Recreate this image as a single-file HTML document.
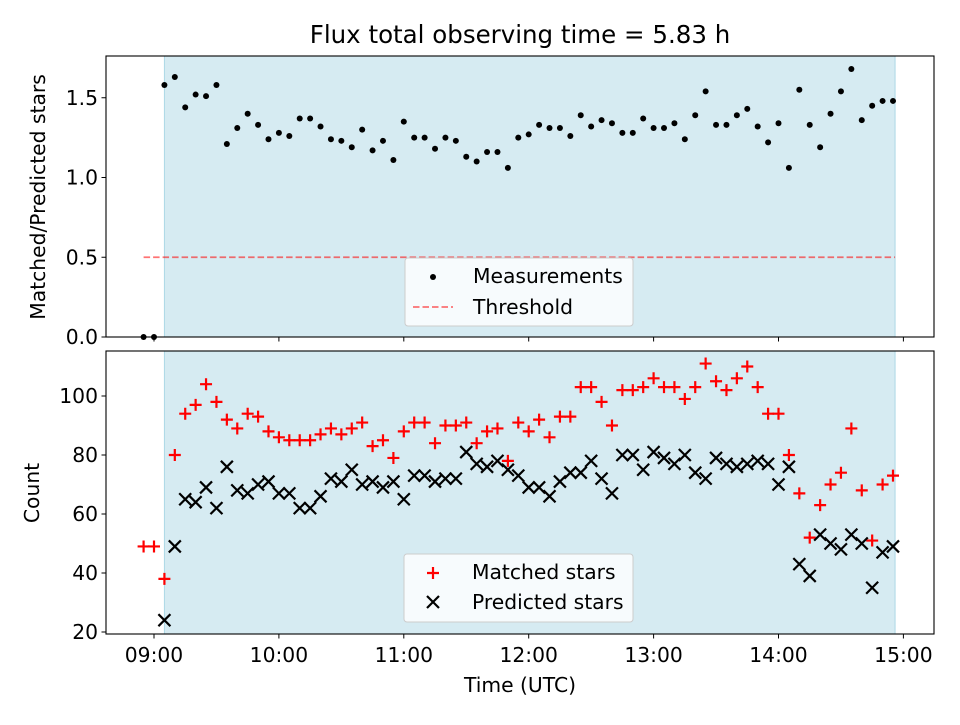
<!DOCTYPE html>
<html><head><meta charset="utf-8"><style>
body{margin:0;background:#fff;font-family:"Liberation Sans","DejaVu Sans",sans-serif}
svg text{font-family:"DejaVu Sans","Liberation Sans",sans-serif}
</style></head><body>
<svg id="c" width="960" height="720" xmlns="http://www.w3.org/2000/svg"></svg>
<script>
const startMin = 8*60+55; // first sample 08:55, step 5 min
const stepMin = 5;
const ratio = [0,0,1.58,1.63,1.44,1.52,1.51,1.58,1.21,1.31,1.40,1.33,1.24,1.28,1.26,1.37,1.37,1.32,1.24,1.23,1.19,1.30,1.17,1.23,1.11,1.35,1.25,1.25,1.18,1.25,1.23,1.13,1.10,1.16,1.16,1.06,1.25,1.27,1.33,1.31,1.31,1.26,1.39,1.32,1.36,1.34,1.28,1.28,1.37,1.31,1.31,1.34,1.24,1.39,1.54,1.33,1.33,1.39,1.43,1.32,1.22,1.34,1.06,1.55,1.33,1.19,1.40,1.54,1.68,1.36,1.45,1.48,1.48];
const matched = [49,49,38,80,94,97,104,98,92,89,94,93,88,86,85,85,85,87,89,87,89,91,83,85,79,88,91,91,84,90,90,91,84,88,89,78,91,88,92,86,93,93,103,103,98,90,102,102,103,106,103,103,99,103,111,105,102,106,110,103,94,94,80,67,52,63,70,74,89,68,51,70,73];
const predicted = [null,null,24,49,65,64,69,62,76,68,67,70,71,67,67,62,62,66,72,71,75,70,71,69,71,65,73,73,71,72,72,81,77,76,78,75,73,69,69,66,71,74,74,78,72,67,80,80,75,81,79,77,80,74,72,79,77,76,77,78,77,70,76,43,39,53,50,48,53,50,35,47,49];
const xTickLabels = ["09:00","10:00","11:00","12:00","13:00","14:00","15:00"];
const topTicks = [0.0,0.5,1.0,1.5];
const botTicks = [20,40,60,80,100];
const threshold = 0.5;
const obsStartMin = 9*60+5, obsEndMin = 14*60+56;

const NS="http://www.w3.org/2000/svg", svg=document.getElementById('c');
function el(t,a,p){const e=document.createElementNS(NS,t);for(const k in a)e.setAttribute(k,a[k]);(p||svg).appendChild(e);return e;}
function txt(s,a,p){const e=el('text',a,p);e.textContent=s;return e;}
const L=106,R=934;
const xOf=m=>154+(m-540)*124.9/60;
const yTop=v=>337-v*159.5;
const yBot=v=>632-(v-20)*2.95;
const T={t:56,b:337},B={t:351,b:634};
const FS="20.3";

const title=txt("Flux total observing time = 5.83 h",{x:520,y:43,"font-size":"24.5","text-anchor":"middle",fill:"#000"});



function panel(P,name){
  const g=el('g',{});
  
  
  const sp=el('rect',{x:xOf(obsStartMin),y:P.t,width:xOf(obsEndMin)-xOf(obsStartMin),height:P.b-P.t,fill:"#add8e6","fill-opacity":"0.5",stroke:"#add8e6","stroke-width":1},g);
  
  
  return g;
}
function frame(P,g){
  el('rect',{x:L,y:P.t,width:R-L,height:P.b-P.t,fill:"none",stroke:"#000","stroke-width":1.1},g);
  xTickLabels.forEach((lab,i)=>{
    const x=xOf(540+i*60);
    el('line',{x1:x,x2:x,y1:P.b,y2:P.b+4.5,stroke:"#000"},g);
  });
}
const gt=panel(T,'ratio-panel');
const th=el('line',{x1:xOf(startMin),x2:xOf(obsEndMin),y1:yTop(threshold),y2:yTop(threshold),stroke:"#ff0000","stroke-opacity":"0.55","stroke-width":1.8,"stroke-dasharray":"6.5,3"},gt);


ratio.forEach((v,i)=>{
  const c=el('circle',{cx:xOf(startMin+i*stepMin),cy:yTop(v),r:3,fill:"#000"},gt);
  
  
});
frame(T,gt);
topTicks.forEach(v=>{
  const y=yTop(v);
  el('line',{x1:L-4.5,x2:L,y1:y,y2:y,stroke:"#000"},gt);
  txt(v.toFixed(1),{x:L-8,y:y+7,"font-size":FS,"text-anchor":"end"},gt);
});
const yl1=txt("Matched/Predicted stars",{x:0,y:0,"font-size":FS,"text-anchor":"middle",transform:"translate(45,197) rotate(-90)"});


const lg1=el('g',{});


el('rect',{x:405,y:258,width:228,height:68,rx:3,fill:"#fff","fill-opacity":"0.8",stroke:"#ccc"},lg1);
el('circle',{cx:433,cy:277,r:3,fill:"#000"},lg1);
txt("Measurements",{x:473,y:283,"font-size":FS},lg1);
el('line',{x1:413,x2:453,y1:307,y2:307,stroke:"#ff0000","stroke-opacity":"0.55","stroke-width":1.8,"stroke-dasharray":"6.5,3"},lg1);
txt("Threshold",{x:473,y:314,"font-size":FS},lg1);

const gb=panel(B,'count-panel');
matched.forEach((v,i)=>{
  if(v==null)return;
  const x=xOf(startMin+i*stepMin),y=yBot(v);
  const p=el('path',{d:`M${x-6},${y}H${x+6}M${x},${y-6}V${y+6}`,stroke:"#ff0000","stroke-width":2.2},gb);
  
  
});
predicted.forEach((v,i)=>{
  if(v==null)return;
  const x=xOf(startMin+i*stepMin),y=yBot(v);
  const p=el('path',{d:`M${x-6},${y-6}L${x+6},${y+6}M${x-6},${y+6}L${x+6},${y-6}`,stroke:"#000","stroke-width":2.2},gb);
  
  
});
frame(B,gb);
botTicks.forEach(v=>{
  const y=yBot(v);
  el('line',{x1:L-4.5,x2:L,y1:y,y2:y,stroke:"#000"},gb);
  txt(String(v),{x:L-8,y:y+7,"font-size":FS,"text-anchor":"end"},gb);
});
xTickLabels.forEach((lab,i)=>{
  txt(lab,{x:xOf(540+i*60),y:B.b+28,"font-size":FS,"text-anchor":"middle"},gb);
});
const yl2=txt("Count",{x:0,y:0,"font-size":FS,"text-anchor":"middle",transform:"translate(39,493) rotate(-90)"});


const xl=txt("Time (UTC)",{x:520,y:692,"font-size":FS,"text-anchor":"middle"});


const lg2=el('g',{});


el('rect',{x:404,y:554,width:229,height:68,rx:3,fill:"#fff","fill-opacity":"0.8",stroke:"#ccc"},lg2);
el('path',{d:"M427,573H439M433,567V579",stroke:"#ff0000","stroke-width":2.2},lg2);
txt("Matched stars",{x:472,y:579,"font-size":FS},lg2);
el('path',{d:"M427,596L439,608M427,608L439,596",stroke:"#000","stroke-width":2.2},lg2);
txt("Predicted stars",{x:472,y:609,"font-size":FS},lg2);
</script>
</body></html>
